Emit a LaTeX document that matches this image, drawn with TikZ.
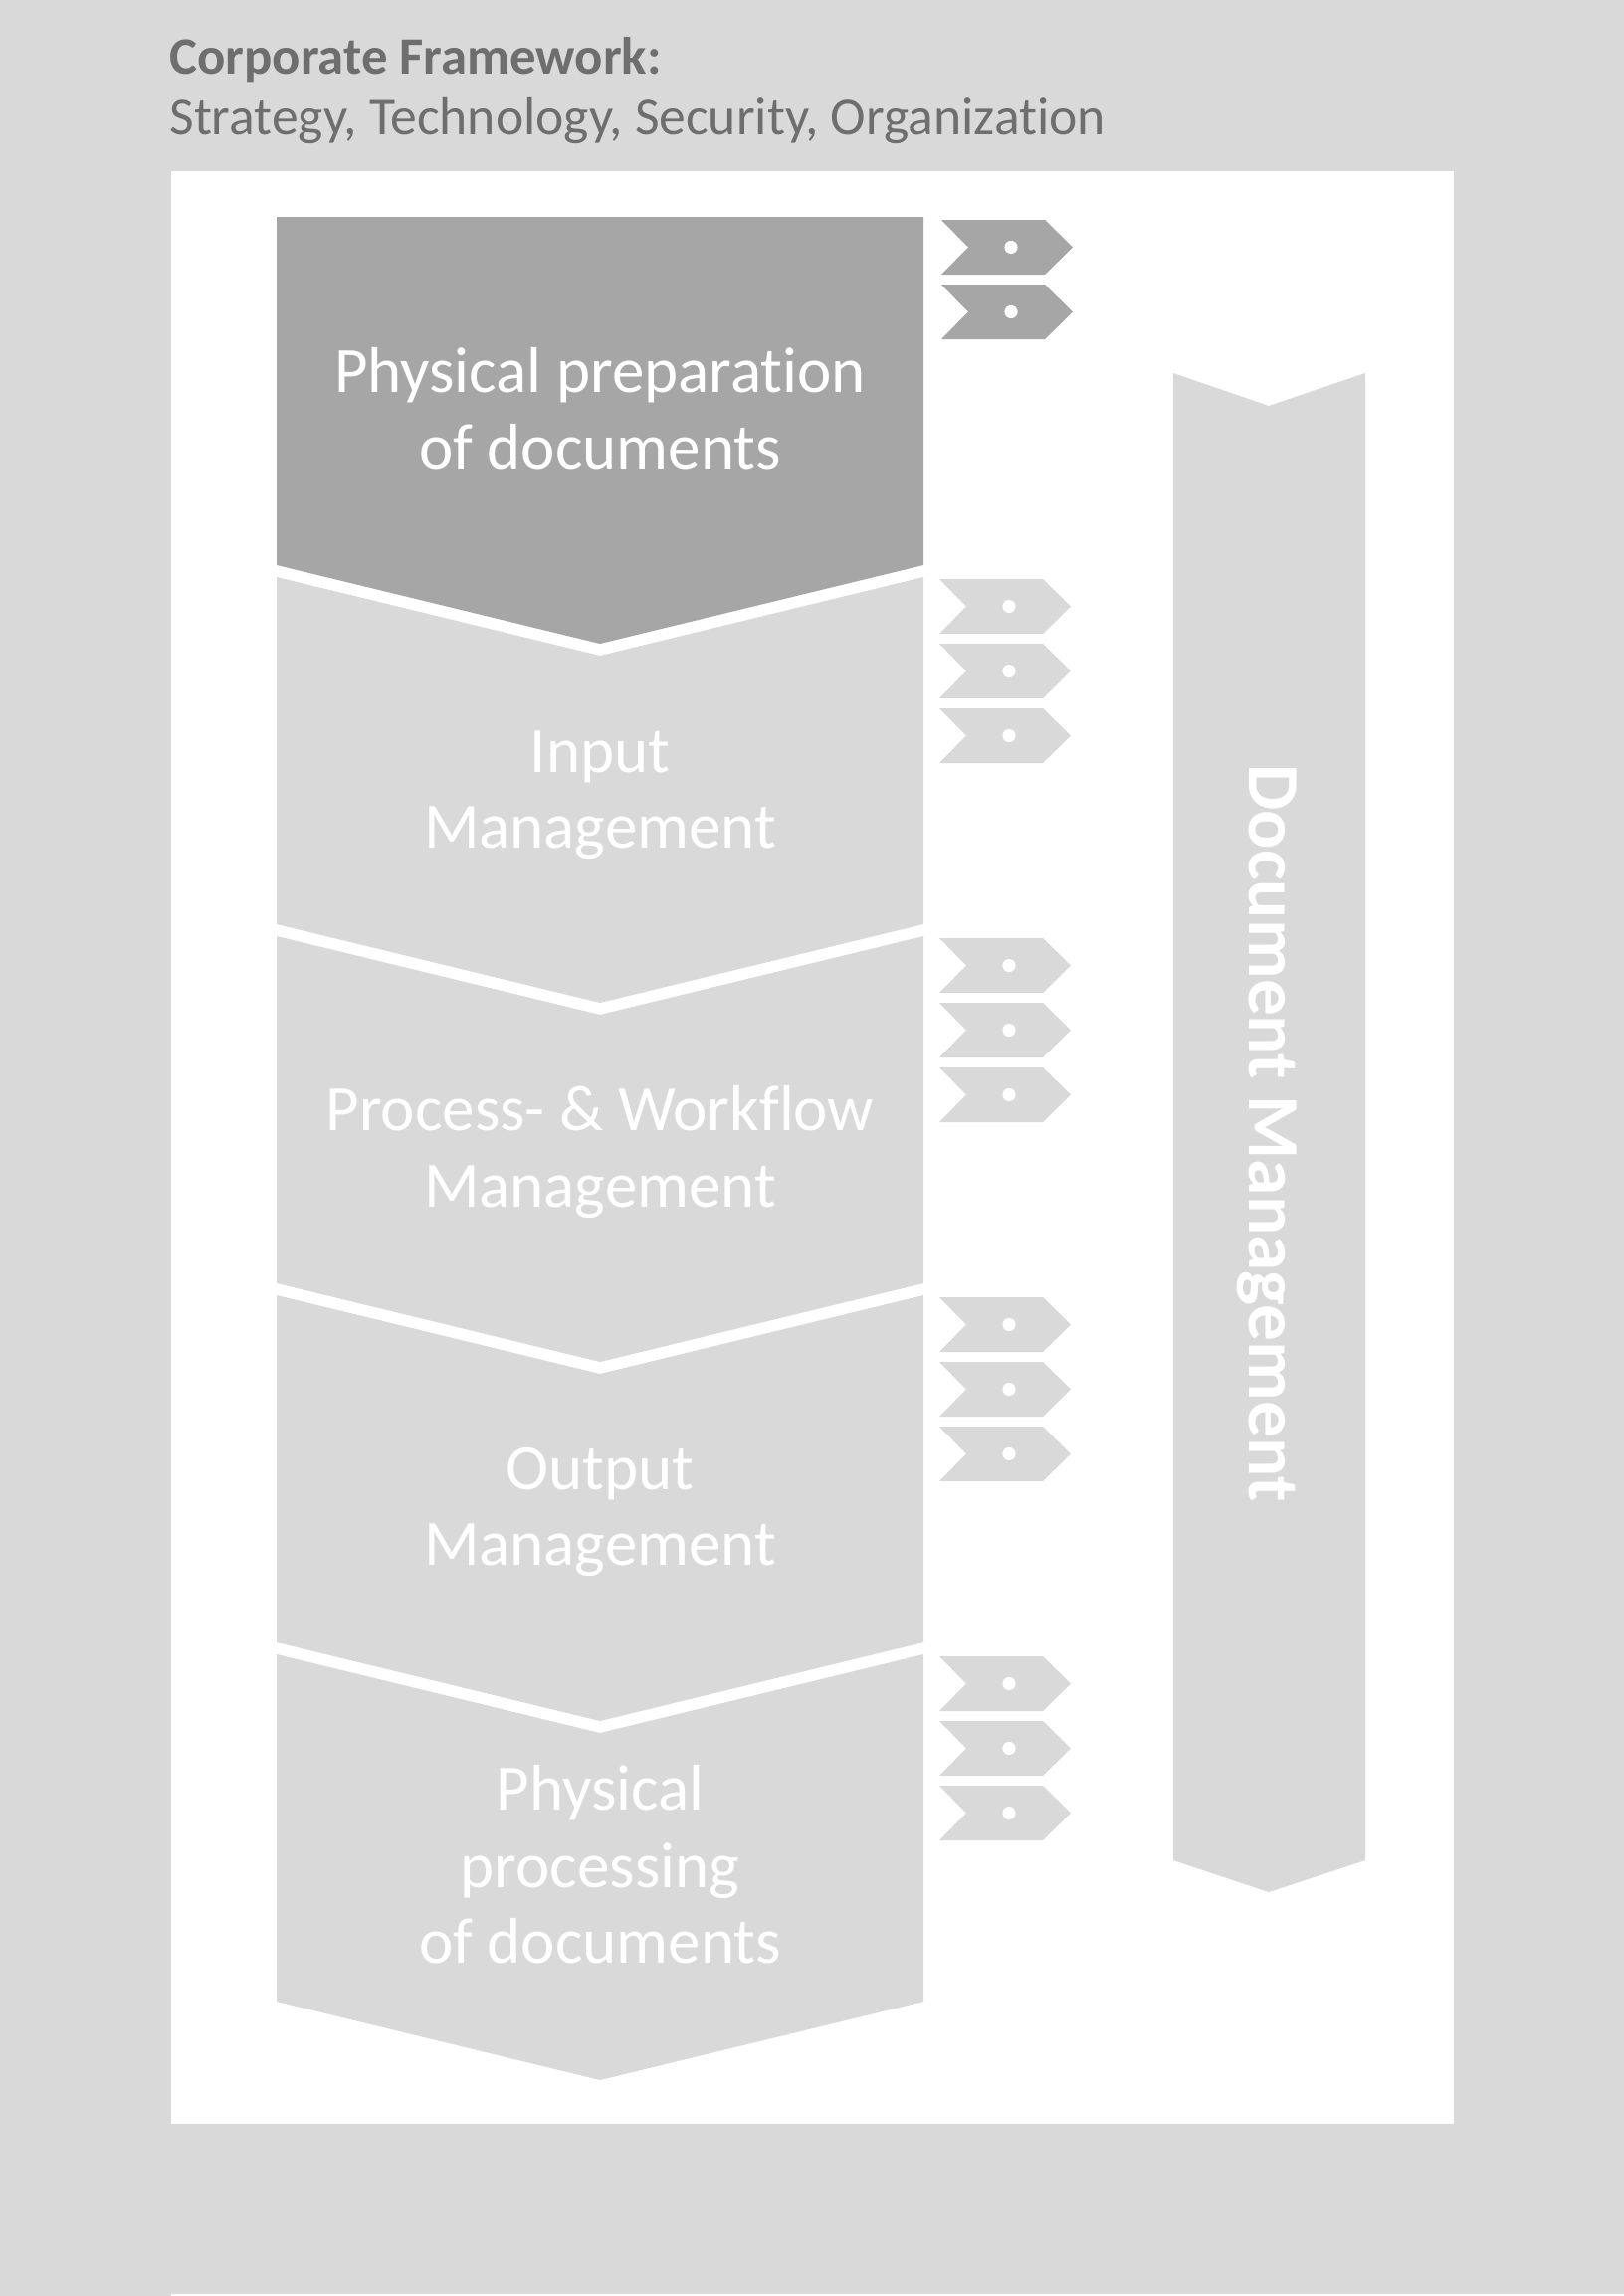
\documentclass[tikz,border=0pt]{standalone}
\usepackage{fontspec}
\setmainfont{Carlito}[Ligatures=NoCommon]
\definecolor{bggray}{HTML}{D9D9D9}
\definecolor{darkfill}{HTML}{A6A6A6}
\definecolor{headgray}{HTML}{6E6E6E}
\tikzset{
  tagpic/.pic={
    \fill[pic actions] (0,0) -- (104,0) -- (132,27.5) -- (104,55) -- (0,55) -- (27,27.5) -- cycle;
    \fill[white] (70,27.5) circle[radius=3.3pt];
  },
  chevpic/.pic={
    \fill[pic actions] (278,0) -- (603,79) -- (928,0) -- (928,349) -- (603,428) -- (278,349) -- cycle;
  },
  boxtext/.style={text=white, anchor=base, inner sep=0pt, font=\fontsize{32.5}{39}\selectfont},
  headtext/.style={text=headgray, anchor=base west, inner sep=0pt, font=\fontsize{26.8}{32}\selectfont},
}
\begin{document}
\begin{tikzpicture}[x=0.5pt,y=-0.5pt]
\fill[bggray] (0,0) rectangle (1632,2308);
\useasboundingbox (0,0) rectangle (1632,2308);
\fill[white] (172,172) rectangle (1461,2135);
\fill[white] (172,2305.5) rectangle (1632,2308);

% header
\node[headtext, font=\fontsize{26.4}{32}\selectfont\bfseries] (h1) at (170,74) {Corporate Framework:};
\node[headtext] (h2) at (170,135) {Strategy, Technology, Security, Organization};

% chevrons
\fill[darkfill] (278,218) -- (928,218) -- (928,568) -- (603,647) -- (278,568) -- cycle;
\foreach \yy in {580,941,1302,1663} {
  \pic[fill=bggray] at (0,\yy) {chevpic};
}

% document management arrow
\fill[bggray] (1179,375) -- (1275,408) -- (1372,375) -- (1372,1870) -- (1275,1902) -- (1179,1870) -- cycle;
\node[text=white, inner sep=0pt, rotate=-90, font=\fontsize{36.7}{44}\selectfont\bfseries] (dm) at (1273,1139) {Document Management};

% tags
\foreach \yy in {221,286} { \pic[fill=darkfill] at (946,\yy) {tagpic}; }
\foreach \g in {582,943,1304,1665} {
  \foreach \k in {0,65,130} {
    \pic[fill=bggray] at (944,\g+\k) {tagpic};
  }
}

% box texts
\node[boxtext] (b1a) at (603,394) {Physical preparation};
\node[boxtext] (b1b) at (603,471) {of documents};
\node[boxtext] (b2a) at (603,776) {Input};
\node[boxtext] (b2b) at (603,852) {Management};
\node[boxtext] (b3a) at (603,1136) {Process- \& Workflow};
\node[boxtext] (b3b) at (603,1213) {Management};
\node[boxtext] (b4a) at (603,1497) {Output};
\node[boxtext] (b4b) at (603,1573) {Management};
\node[boxtext] (b5a) at (603,1819) {Physical};
\node[boxtext] (b5b) at (603,1897) {processing};
\node[boxtext] (b5c) at (603,1973) {of documents};
\end{tikzpicture}
\end{document}
